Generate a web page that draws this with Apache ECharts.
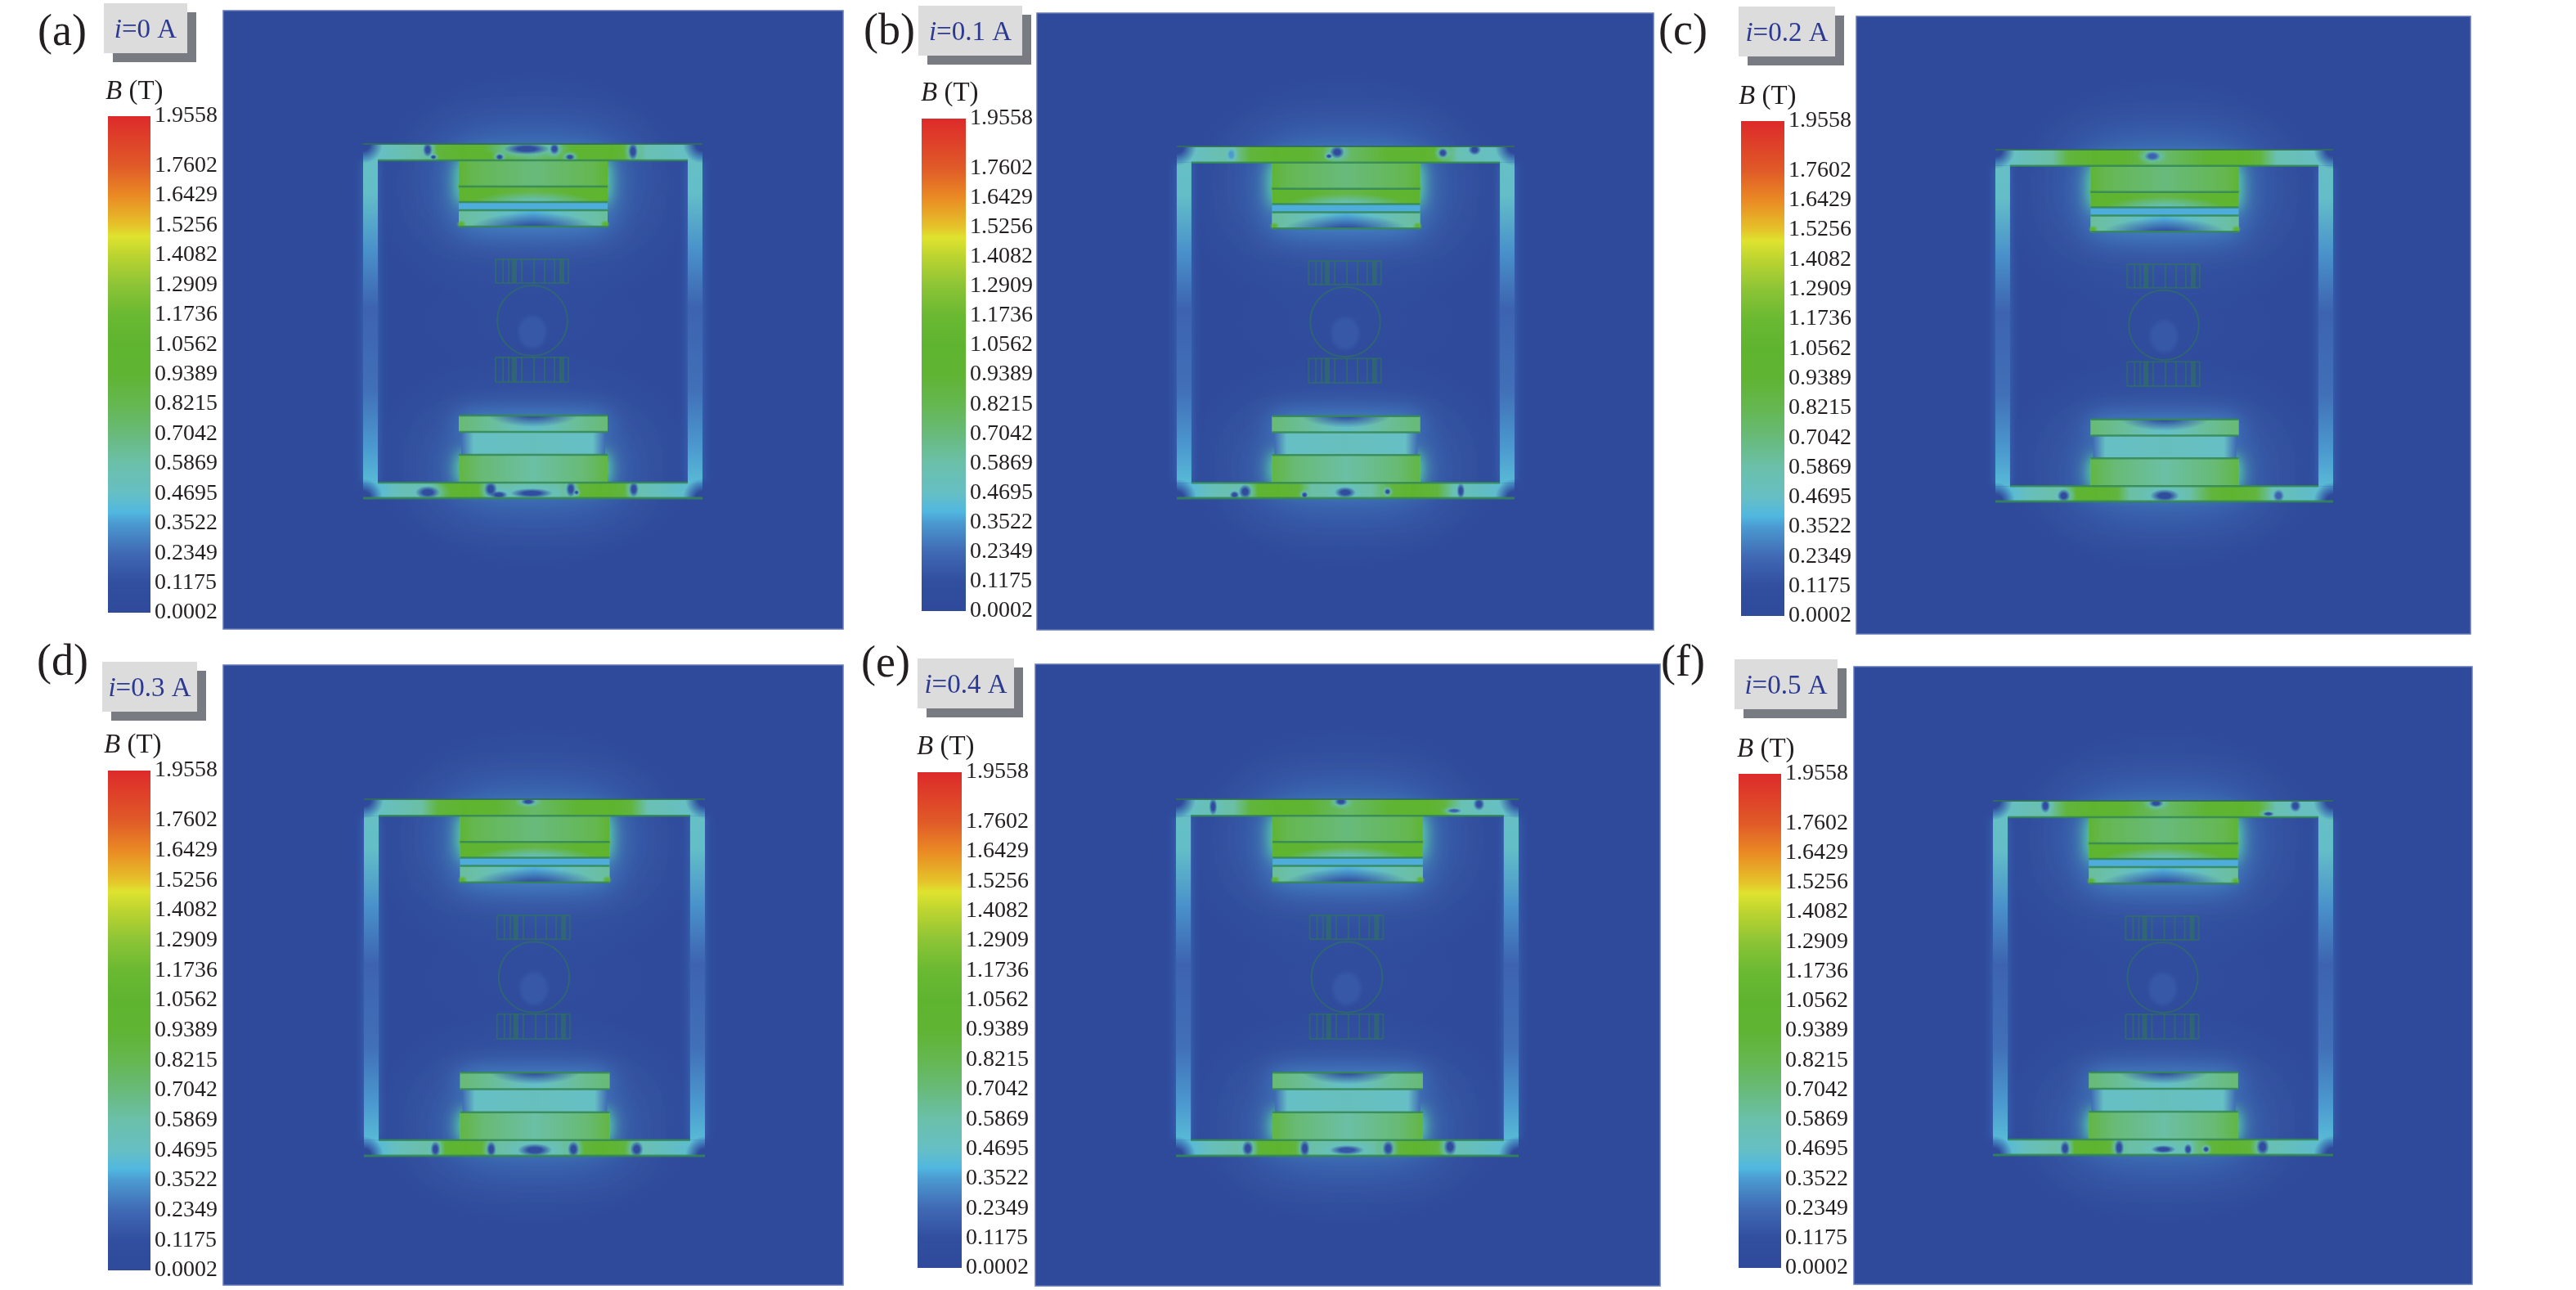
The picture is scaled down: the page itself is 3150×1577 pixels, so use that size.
<!DOCTYPE html>
<html>
<head>
<meta charset="utf-8">
<style>html,body{margin:0;background:#fff}#chart{width:3150px;height:1577px}</style>
<script src="https://cdn.jsdelivr.net/npm/echarts@6/dist/echarts.min.js"></script>
</head>
<body>
<div id="chart"></div>
<script>
// colour bar: B value -> colour
const rampB = [0.0002, 0.1175, 0.2349, 0.3522, 0.394, 0.4695, 0.5869, 0.7042, 0.8215, 0.9389, 1.0562, 1.1736, 1.2909, 1.4082, 1.483, 1.5256, 1.6429, 1.7602, 1.9558];
const rampColors = ['#2f4a9b', '#314e9f', '#4069b4', '#4b9ad0', '#50b7e0', '#66bfc4', '#6bc0aa', '#68ba7a', '#65b750', '#5fb433', '#5fb42f', '#6ab932', '#8cc436', '#bcd430', '#dfe32f', '#e5c32a', '#ea8a24', '#e05a28', '#dd2a2a'];
const tickValues = [0.0002, 0.1175, 0.2349, 0.3522, 0.4695, 0.5869, 0.7042, 0.8215, 0.9389, 1.0562, 1.1736, 1.2909, 1.4082, 1.5256, 1.6429, 1.7602, 1.9558];

const panelNames = ['(a)', '(b)', '(c)', '(d)', '(e)', '(f)'];
const currents = ['0', '0.1', '0.2', '0.3', '0.4', '0.5'];

// pixel boxes [left, top, right, bottom]
const panelBoxes = [[273, 13, 1031, 769], [1268, 16, 2022, 770], [2270, 20, 3021, 775], [273, 813, 1031, 1571], [1266, 812, 2030, 1572], [2267, 815, 3023, 1570]];
const frameBoxes = [[444, 176, 859, 609], [1439, 179, 1852, 609], [2440, 183, 2853, 613], [445, 977, 862, 1413], [1438, 977, 1857, 1413], [2437, 979, 2853, 1412]];
const barBoxes = [[132, 142, 184, 749], [1127, 145, 1181, 747], [2129, 148, 2182, 753], [132, 942, 184, 1553], [1122, 944, 1176, 1550], [2126, 946, 2178, 1550]];
const tagBoxes = [[127, 4, 229, 65], [1123, 7, 1250, 68], [2126, 8, 2244, 69], [125, 809, 241, 870], [1122, 805, 1240, 866], [2121, 806, 2247, 867]];
const nameAt = [[46, 41], [1056, 40], [2028, 40], [45, 811], [1053, 813], [2031, 812]];
const unitAt = [[129, 112], [1126, 114], [2126, 118], [127, 911], [1121, 913], [2124, 916]];

// field in the magnet frame, x 0..415, y 0..433; profiles are [position, B]
const yokeTopB = [[0, 0.42], [18, 0.47], [70, 0.6], [90, 0.9], [120, 1.05], [160, 0.95], [208, 0.75], [260, 0.95], [305, 1.05], [325, 0.9], [345, 0.55], [397, 0.47], [415, 0.42]];
const yokeBottomB = [[0, 0.38], [18, 0.42], [40, 0.5], [80, 0.6], [100, 0.95], [125, 1.05], [150, 0.9], [165, 0.6], [208, 0.55], [240, 0.6], [265, 0.9], [290, 1.05], [320, 0.9], [340, 0.55], [397, 0.44], [415, 0.38]];
const legB = [[20, 0.47], [60, 0.46], [130, 0.33], [200, 0.21], [300, 0.25], [370, 0.35], [414, 0.42]];
const block1B = [[117, 0.95], [135, 0.82], [208, 0.7], [281, 0.82], [299, 0.95]];
const block2B = [[117, 1.05], [160, 0.95], [208, 0.85], [256, 0.95], [299, 1.05]];
const gapTopB = [[117, 0.38], [299, 0.38]];
const block3B = [[117, 0.62], [150, 0.55], [180, 0.45], [208, 0.38], [236, 0.45], [266, 0.55], [299, 0.62]];
const block4B = [[117, 0.72], [160, 0.62], [185, 0.52], [208, 0.46], [231, 0.52], [256, 0.62], [299, 0.72]];
const gapBottomB = [[120, 0.24], [135, 0.47], [208, 0.5], [281, 0.47], [296, 0.24]];
const block5B = [[117, 0.88], [145, 0.72], [208, 0.6], [271, 0.72], [299, 0.88]];

// local spots [cx, cy, rx, ry, B]
const softSpots = [[208, 60, 200, 150, 0.18], [208, 385, 200, 135, 0.18], [208, 216, 140, 70, 0.09]];
const domeSpot = [208, 72, 75, 14, 0.5];
const block3Low = [208, 104, 78, 20, 0.12];
const block4Low = [208, 330, 56, 16, 0.1];
const hotSpots = [[120, 98, 6, 5, 1.0], [296, 98, 6, 5, 1.0], [120, 52, 6, 5, 1.0], [296, 52, 6, 5, 1.0]];
const cornerSpots = [[0, 0, 24, 24, 0.0002], [415, 0, 24, 24, 0.0002], [0, 433, 24, 24, 0.0002], [415, 433, 24, 24, 0.0002]];
const rotorSpot = [207, 230, 20, 23, 0.16];
const patchesTop = [
  [[79, 7, 6, 9, 0.1], [86, 16, 4, 3, 0.05], [167, 16, 5, 4, 0.05], [200, 6, 28, 7, 0.1], [234, 6, 6, 7, 0.1], [253, 16, 6, 4, 0.1], [330, 9, 6, 11, 0.1]],
  [[67, 10, 5, 7, 0.35], [197, 7, 9, 8, 0.03], [187, 12, 4, 3, 0.1], [327, 8, 6, 6, 0.08], [366, 4, 8, 7, 0.05]],
  [[193, 8, 10, 6, 0.2]],
  [[200, 3, 9, 4, 0.05]],
  [[45, 9, 5, 11, 0.05], [200, 3, 8, 5, 0.05], [367, 6, 7, 8, 0.05], [337, 14, 9, 3, 0.2]],
  [[64, 6, 6, 9, 0.05], [199, 3, 9, 5, 0.05], [369, 6, 7, 8, 0.05], [336, 16, 7, 3, 0.1]]
];
const patchesBottom = [
  [[79, 426, 15, 8, 0.08], [156, 422, 8, 10, 0.05], [166, 429, 11, 5, 0.05], [206, 427, 26, 6, 0.1], [254, 422, 6, 10, 0.08], [261, 426, 3, 3, 0.1], [331, 422, 6, 10, 0.08]],
  [[84, 425, 8, 9, 0.05], [71, 429, 6, 5, 0.1], [157, 429, 4, 4, 0.05], [207, 426, 13, 7, 0.05], [259, 425, 4, 4, 0.05], [349, 424, 5, 10, 0.1]],
  [[84, 426, 8, 8, 0.05], [208, 426, 18, 8, 0.05], [348, 426, 7, 8, 0.2]],
  [[87, 425, 6, 10, 0.05], [155, 425, 6, 10, 0.05], [208, 426, 21, 8, 0.1], [255, 425, 7, 10, 0.05], [332, 425, 8, 10, 0.05]],
  [[87, 424, 7, 10, 0.05], [156, 424, 6, 11, 0.05], [207, 426, 21, 6, 0.15], [257, 424, 7, 10, 0.1], [332, 422, 8, 11, 0.05]],
  [[88, 425, 6, 10, 0.05], [154, 424, 6, 11, 0.05], [208, 426, 15, 5, 0.1], [238, 426, 5, 7, 0.1], [260, 426, 4, 4, 0.05], [329, 423, 8, 11, 0.05]]
];

// outlines
const poleLinesY = [52, 71, 81, 101, 332, 352, 380];
const squareTicksX = [162, 171, 178, 194, 209, 222, 234, 251];
const squareBandsX = [185, 243];
const squareRows = [[141, 170], [261, 291]];
const rotorCircle = [207, 216, 43];

const LINE = 'rgba(52,135,85,0.85)';
const THIN = 'rgba(48,120,84,0.55)';

function colorOf(b) {
  let i = 0;
  while (i < rampB.length - 2 && b > rampB[i + 1]) i++;
  const t = Math.min(1, Math.max(0, (b - rampB[i]) / (rampB[i + 1] - rampB[i])));
  return echarts.color.lerp(t, [rampColors[i], rampColors[i + 1]]);
}
function alongGradient(profile, vertical) {
  const a = profile[0][0], z = profile[profile.length - 1][0];
  const stops = profile.map(p => ({ offset: (p[0] - a) / (z - a), color: colorOf(p[1]) }));
  return new echarts.graphic.LinearGradient(0, 0, vertical ? 0 : 1, vertical ? 1 : 0, stops);
}
function spotGradient(b, solid) {
  const c = colorOf(b);
  return new echarts.graphic.RadialGradient(0.5, 0.5, 0.5, [
    { offset: 0, color: c }, { offset: solid, color: c }, { offset: 1, color: echarts.color.modifyAlpha(c, 0) }
  ]);
}

// marks of one panel: value is [x0, y0, x1, y1], the rest says how to paint it
function panelMarks(i) {
  const m = [];
  const bar = (x0, y0, x1, y1, extra) => m.push(Object.assign({ value: [x0, y0, x1, y1], kind: 'rect' }, extra));
  const spot = (s, solid, opts) => {
    const o = opts || {}, k = o.grow || 1, b = o.b === undefined ? s[4] : o.b;
    m.push({ value: [s[0] - s[2] * k, s[1] - s[3] * k, s[0] + s[2] * k, s[1] + s[3] * k], kind: 'spot', fill: spotGradient(b, solid), within: o.within });
  };
  const line = (x0, y0, x1, y1, color, w) => m.push({ value: [x0, y0, x1, y1], kind: 'line', color, w });

  softSpots.forEach(s => spot(s, 0));
  // glow round the pole stacks
  for (let k = 0; k < 2; k++) {
    bar(117, 20, 299, 71, { fill: '#4b9ad0', glow: 70, glowColor: '#4285c8' });
    bar(117, 380, 299, 414, { fill: '#4b9ad0', glow: 70, glowColor: '#4285c8' });
  }
  bar(117, 20, 299, 71, { fill: '#50b7a8', glow: 26, glowColor: '#5ad0b0' });
  bar(117, 20, 299, 71, { fill: '#50b7a8', glow: 16, glowColor: '#5ad0a0' });
  bar(117, 81, 299, 101, { fill: '#4b9ad0', glow: 34, glowColor: '#4a96d0' });
  bar(117, 380, 299, 414, { fill: '#50b7a8', glow: 26, glowColor: '#5ad0b0' });
  bar(117, 380, 299, 414, { fill: '#50b7a8', glow: 16, glowColor: '#5ad0a0' });
  bar(117, 332, 299, 352, { fill: '#4b9ad0', glow: 30, glowColor: '#4a96d0' });

  bar(0, 20, 18, 414, { fill: alongGradient(legB, true), glow: 12, glowColor: '#3a6cb8' });
  bar(397, 20, 415, 414, { fill: alongGradient(legB, true), glow: 12, glowColor: '#3a6cb8' });
  bar(0, 0, 415, 20, { fill: alongGradient(yokeTopB) });
  bar(0, 414, 415, 433, { fill: alongGradient(yokeBottomB) });
  cornerSpots.forEach(s => spot(s, 0.35));

  bar(117, 20, 299, 52, { fill: alongGradient(block1B) });
  bar(117, 52, 299, 71, { fill: alongGradient(block2B) });
  spot(domeSpot, 0.15, { within: [117, 52, 299, 71] });
  bar(117, 71, 299, 81, { fill: alongGradient(gapTopB) });
  bar(117, 81, 299, 101, { fill: alongGradient(block3B) });
  bar(120, 352, 296, 380, { fill: alongGradient(gapBottomB) });
  bar(117, 332, 299, 352, { fill: alongGradient(block4B) });
  bar(117, 380, 299, 414, { fill: alongGradient(block5B) });
  spot(block3Low, 0.2, { within: [117, 81, 299, 101] });
  spot(block4Low, 0.2, { within: [117, 332, 299, 352] });
  hotSpots.forEach(s => spot(s, 0.3));

  const top = [0, 0, 415, 20], bottom = [0, 414, 415, 433];
  patchesTop[i].forEach(s => spot(s, 0.2, { grow: 1.9, b: 0.47, within: top }));
  patchesBottom[i].forEach(s => spot(s, 0.2, { grow: 1.9, b: 0.47, within: bottom }));
  patchesTop[i].forEach(s => spot(s, 0.4, { within: top }));
  patchesBottom[i].forEach(s => spot(s, 0.4, { within: bottom }));
  spot(rotorSpot, 0.7);

  line(0, 0, 415, 0, 'rgba(50,110,90,0.9)', 2);
  line(0, 433, 415, 433, LINE, 3);
  line(18, 20, 397, 20, LINE, 2.5);
  line(18, 414, 397, 414, LINE, 2.5);
  poleLinesY.forEach(y => line(117, y, 299, y, LINE, 2.5));
  squareRows.forEach(r => {
    line(162, r[0], 251, r[0], THIN, 2);
    line(162, r[1], 251, r[1], THIN, 2);
    squareTicksX.forEach(x => line(x, r[0], x, r[1], THIN, 2));
    squareBandsX.forEach(x => line(x, r[0], x, r[1], THIN, 6));
  });
  m.push({ value: [rotorCircle[0] - rotorCircle[2], rotorCircle[1] - rotorCircle[2], rotorCircle[0] + rotorCircle[2], rotorCircle[1] + rotorCircle[2]], kind: 'ring' });
  return m;
}

function paintMark(marks) {
  return (params, api) => {
    const m = marks[params.dataIndex];
    const a = api.coord([api.value(0), api.value(1)]);
    const b = api.coord([api.value(2), api.value(3)]);
    if (m.kind === 'line') {
      return { type: 'line', shape: { x1: a[0], y1: a[1], x2: b[0], y2: b[1] }, style: { stroke: m.color, lineWidth: m.w } };
    }
    if (m.kind === 'spot') {
      // unit circle scaled so the radial gradient stays elliptical
      const disc = {
        type: 'circle', shape: { cx: 0, cy: 0, r: 1 },
        x: (a[0] + b[0]) / 2, y: (a[1] + b[1]) / 2,
        scaleX: (b[0] - a[0]) / 2, scaleY: (b[1] - a[1]) / 2,
        style: { fill: m.fill }
      };
      if (!m.within) return disc;
      const c0 = api.coord([m.within[0], m.within[1]]), c1 = api.coord([m.within[2], m.within[3]]);
      return {
        type: 'group', children: [disc],
        clipPath: { type: 'rect', shape: { x: c0[0], y: c0[1], width: c1[0] - c0[0], height: c1[1] - c0[1] } }
      };
    }
    if (m.kind === 'ring') {
      return {
        type: 'ellipse', shape: { cx: (a[0] + b[0]) / 2, cy: (a[1] + b[1]) / 2, rx: (b[0] - a[0]) / 2, ry: (b[1] - a[1]) / 2 },
        style: { fill: 'none', stroke: THIN, lineWidth: 2 }
      };
    }
    return {
      type: 'rect', shape: { x: a[0], y: a[1], width: b[0] - a[0], height: b[1] - a[1] },
      style: { fill: m.fill, shadowBlur: m.glow || 0, shadowColor: m.glowColor || 'transparent' }
    };
  };
}

const serif = '"Liberation Serif", "Times New Roman", serif';
const rampMax = rampB[rampB.length - 1], rampMin = rampB[0];
const barFill = new echarts.graphic.LinearGradient(0, 0, 0, 1, rampB.map((b, k) => ({
  offset: (rampMax - b) / (rampMax - rampMin), color: rampColors[k]
})).reverse());

const grid = [], xAxis = [], yAxis = [], series = [], graphic = [];
panelNames.forEach((name, i) => {
  const p = panelBoxes[i], f = frameBoxes[i], c = barBoxes[i], t = tagBoxes[i];
  const sx = (f[2] - f[0]) / 415, sy = (f[3] - f[1]) / 433;
  const g = i * 2;

  grid.push({ left: p[0], top: p[1], width: p[2] - p[0], height: p[3] - p[1], show: true, backgroundColor: '#2f4a9b', borderColor: '#6478b8', borderWidth: 1.5 });
  xAxis.push({ gridIndex: g, type: 'value', show: false, min: (p[0] - f[0]) / sx, max: (p[2] - f[0]) / sx });
  yAxis.push({ gridIndex: g, type: 'value', show: false, inverse: true, min: (p[1] - f[1]) / sy, max: (p[3] - f[1]) / sy });
  const marks = panelMarks(i);
  series.push({ type: 'custom', xAxisIndex: g, yAxisIndex: g, clip: true, silent: true, animation: false, renderItem: paintMark(marks), data: marks.map(m => ({ value: m.value })) });

  grid.push({ left: c[0], top: c[1], width: c[2] - c[0], height: c[3] - c[1] });
  xAxis.push({ gridIndex: g + 1, type: 'value', show: false, min: 0, max: 1 });
  yAxis.push({
    gridIndex: g + 1, type: 'value', position: 'right', min: rampMin, max: rampMax,
    axisLine: { show: false }, axisTick: { show: false }, splitLine: { show: false },
    axisLabel: { customValues: tickValues, margin: 5, color: '#231f20', fontFamily: serif, fontSize: 28, formatter: v => v.toFixed(4) }
  });
  series.push({
    type: 'custom', xAxisIndex: g + 1, yAxisIndex: g + 1, silent: true, animation: false,
    renderItem: (params, api) => {
      const a = api.coord([0, rampMax]), b = api.coord([1, rampMin]);
      return { type: 'rect', shape: { x: a[0], y: a[1], width: b[0] - a[0], height: b[1] - a[1] }, style: { fill: barFill } };
    },
    data: [[0, rampMin]]
  });

  graphic.push({ type: 'rect', z: 5, shape: { x: t[0] + 11, y: t[1] + 11, width: t[2] - t[0], height: t[3] - t[1] }, style: { fill: '#787c82' } });
  graphic.push({ type: 'rect', z: 6, shape: { x: t[0], y: t[1], width: t[2] - t[0], height: t[3] - t[1] }, style: { fill: '#dcdcdc' } });
  graphic.push({
    type: 'text', z: 7, x: (t[0] + t[2]) / 2, y: (t[1] + t[3]) / 2 + 3,
    style: {
      text: '{i|i}=' + currents[i] + ' A', align: 'center', verticalAlign: 'middle', fill: '#2b3990', font: '33px ' + serif,
      rich: { i: { fontStyle: 'italic', fontSize: 33, fontFamily: serif, fill: '#2b3990' } }
    }
  });
  graphic.push({ type: 'text', z: 7, x: nameAt[i][0], y: nameAt[i][1], style: { text: name, align: 'left', verticalAlign: 'middle', fill: '#231f20', font: '54px ' + serif } });
  graphic.push({
    type: 'text', z: 7, x: unitAt[i][0], y: unitAt[i][1],
    style: {
      text: '{b|B} (T)', align: 'left', verticalAlign: 'middle', fill: '#231f20', font: '33px ' + serif,
      rich: { b: { fontStyle: 'italic', fontSize: 33, fontFamily: serif, fill: '#231f20' } }
    }
  });
});

const chart = echarts.init(document.getElementById('chart'));
chart.setOption({ animation: false, backgroundColor: '#fff', grid, xAxis, yAxis, series, graphic: { elements: graphic } });
</script>
</body>
</html>
